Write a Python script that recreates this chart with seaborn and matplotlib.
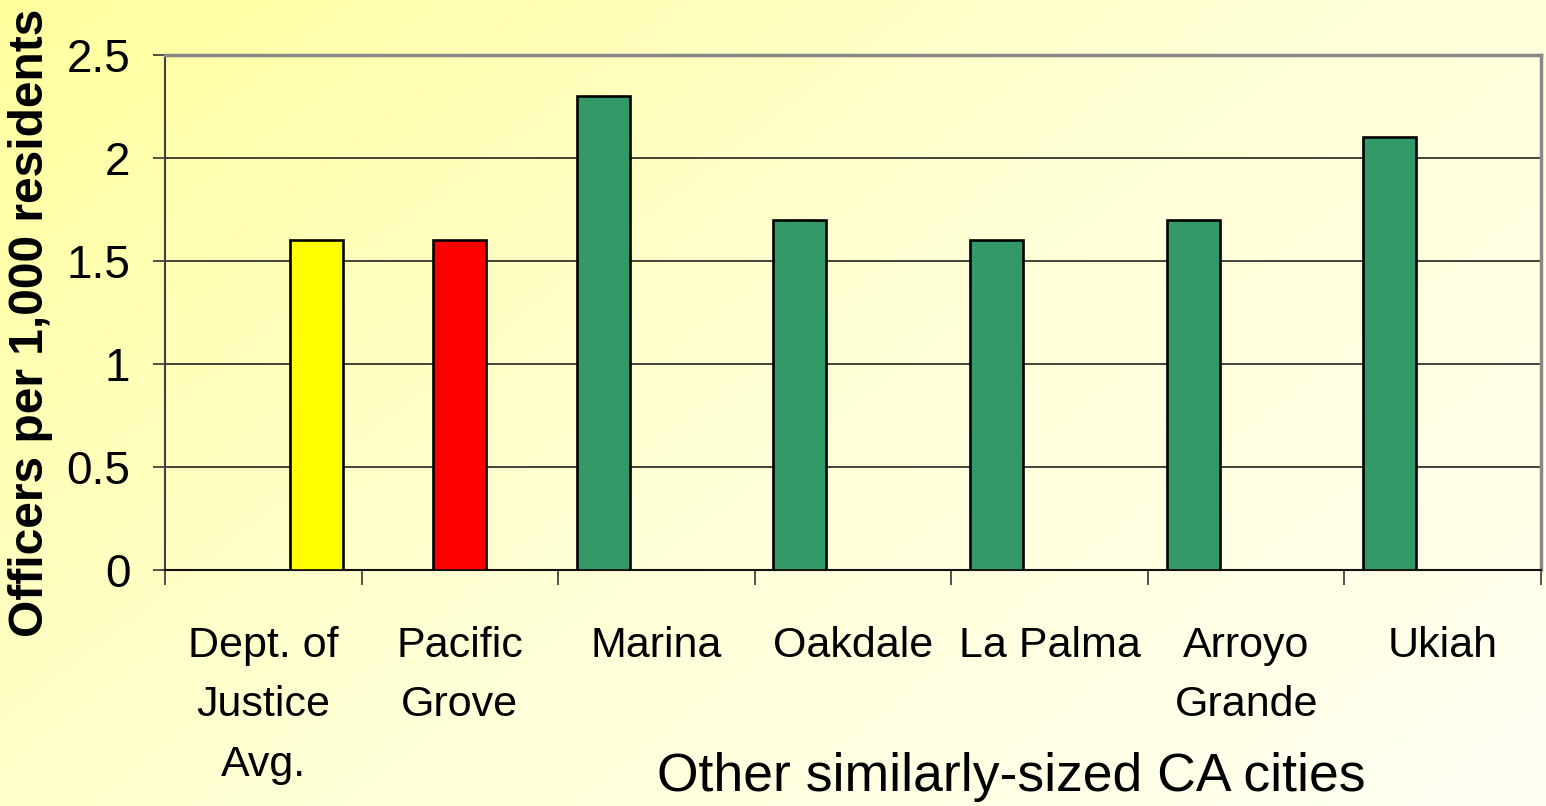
import numpy as np
import pandas as pd
import matplotlib
matplotlib.use("Agg")
import matplotlib.pyplot as plt
import seaborn as sns
from matplotlib.colors import LinearSegmentedColormap

cities = ["Dept. of\nJustice\nAvg.", "Pacific\nGrove", "Marina", "Oakdale",
          "La Palma", "Arroyo\nGrande", "Ukiah"]
officers = [1.6, 1.6, 2.3, 1.7, 1.6, 1.7, 2.1]
groups = ["Dept. of Justice", "Pacific Grove", "Other", "Other", "Other", "Other", "Other"]
group_order = ["Other", "Pacific Grove", "Dept. of Justice"]
group_colors = ["#339966", "#FF0000", "#FFFF00"]
y_ticks = [0, 0.5, 1, 1.5, 2, 2.5]
y_tick_labels = ["0", "0.5", "1", "1.5", "2", "2.5"]

sns.set_style("white")
plt.rcParams["font.family"] = ["Liberation Sans", "DejaVu Sans"]
plt.rcParams["text.color"] = "black"
plt.rcParams["xtick.color"] = "black"
plt.rcParams["ytick.color"] = "black"

W, H = 1546, 806
fig = plt.figure(figsize=(W / 100, H / 100), dpi=100)

# soft yellow diagonal background
bg = fig.add_axes([0, 0, 1, 1], zorder=-10)
gx, gy = np.meshgrid(np.linspace(0, 1, 400), np.linspace(0, 1, 200))
grad = 0.6 * gx + 0.4 * gy
cmap = LinearSegmentedColormap.from_list("bg", ["#FFFF9E", "#FFFFD6", "#FFFFF2"])
bg.imshow(grad, cmap=cmap, aspect="auto", extent=[0, 1, 0, 1], origin="upper")
bg.axis("off")

ax = fig.add_axes([165 / W, 1 - 570 / H, (1541 - 165) / W, (570 - 55) / H])
ax.set_facecolor("none")

df = pd.DataFrame({"city": cities, "officers": officers, "group": groups})
sns.barplot(data=df, x="city", y="officers", hue="group", hue_order=group_order,
            palette=group_colors, width=0.81, dodge=True, edgecolor="black",
            linewidth=1.9, legend=False, saturation=1, ax=ax, zorder=3)

ax.set_xlim(-0.5, len(cities) - 0.5)
ax.set_ylim(0, 2.5)
ax.set_yticks(y_ticks)
ax.set_yticklabels(y_tick_labels)
ax.yaxis.grid(True, color="#111111", linewidth=1.1, zorder=0)
ax.set_axisbelow(True)

ax.set_xticks(range(len(cities)))
ax.set_xticklabels(cities, linespacing=1.64)
ax.set_xticks(np.arange(-0.5, len(cities)), minor=True)
ax.tick_params(axis="x", which="major", length=0, pad=40, labelsize=31)
ax.tick_params(axis="x", which="minor", length=11, width=1.2, color="#333333",
               direction="out", bottom=True)
ax.tick_params(axis="y", length=9, width=1.2, color="#333333", direction="out",
               left=True, pad=16, labelsize=33)
ax.set_xlabel("")
ax.set_ylabel("")

for side in ["top", "right"]:
    ax.spines[side].set_color("#888888")
    ax.spines[side].set_linewidth(2.5)
ax.spines["left"].set_color("#404040")
ax.spines["left"].set_linewidth(1.5)
ax.spines["bottom"].set_color("#111111")
ax.spines["bottom"].set_linewidth(1.5)

fig.text(31 / W, 1 - 323 / H, "Officers per 1,000 residents", rotation=90,
         ha="center", va="center", fontsize=34.5, fontweight="bold")
fig.text(1011 / W, 1 - 777 / H, "Other similarly-sized CA cities",
         ha="center", va="center", fontsize=38.5)

fig.savefig("out.png", dpi=100)
